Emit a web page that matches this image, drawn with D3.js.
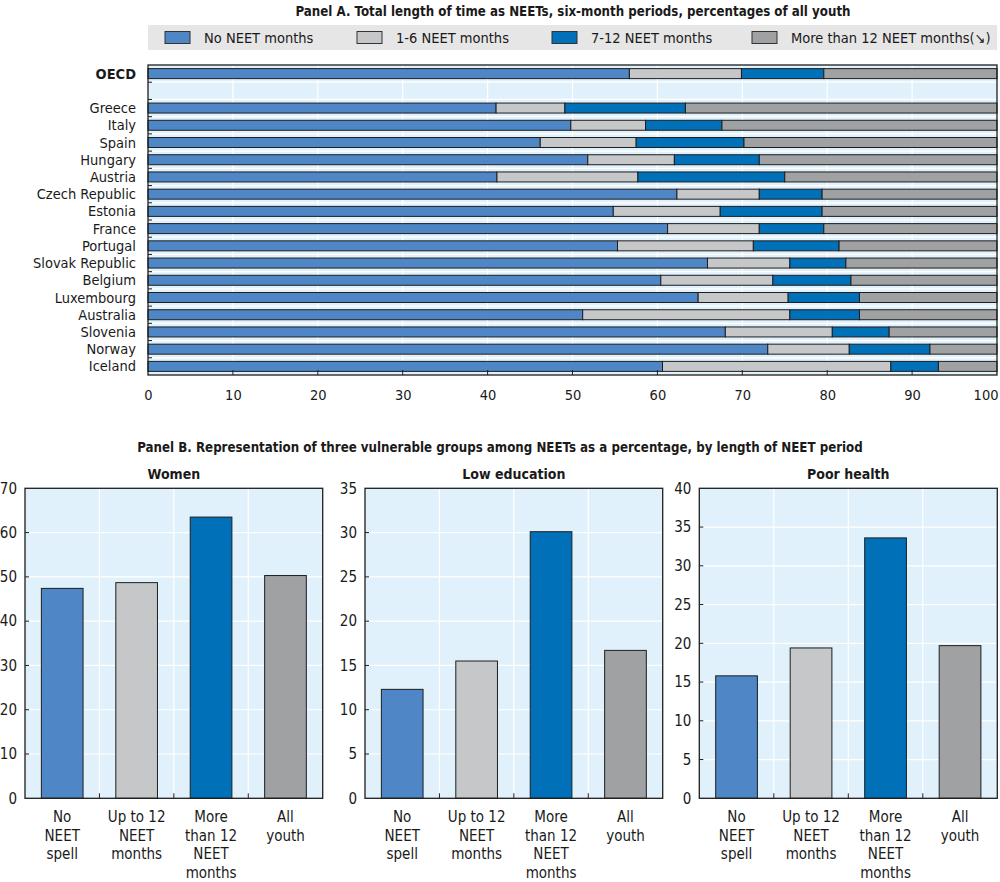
<!DOCTYPE html>
<html><head><meta charset="utf-8">
<script src="https://cdn.jsdelivr.net/npm/d3@7"></script>
<style>
body{margin:0;background:#fff;}
text{font-family:"Liberation Sans Narrow","Arial Narrow","DejaVu Sans Condensed",sans-serif;font-stretch:condensed;fill:#1a1a1a;}
</style></head>
<body><svg id="c" width="1000" height="882"></svg>
<script>
// ---------- Panel A data ----------
const countries = ["OECD","Greece","Italy","Spain","Hungary","Austria","Czech Republic","Estonia","France","Portugal","Slovak Republic","Belgium","Luxembourg","Australia","Slovenia","Norway","Iceland"];
const noNeet   = [56.7,41.0,49.8,46.2,51.8,41.1,62.3,54.8,61.2,55.3,65.9,60.4,64.8,51.2,68.0,73.0,60.6];
const neet1to6 = [13.2, 8.1, 8.8,11.3,10.2,16.6, 9.7,12.6,10.8,16.0, 9.7,13.2,10.6,24.4,12.6, 9.6,26.9];
const neet7to12= [ 9.7,14.2, 9.0,12.7,10.0,17.3, 7.4,12.0, 7.6,10.1, 6.6, 9.2, 8.4, 8.2, 6.7, 9.5, 5.6];
const neet12plus=[20.4,36.7,32.4,29.8,28.0,25.0,20.6,20.6,20.4,18.6,17.8,17.2,16.2,16.2,12.7, 7.9, 6.9];
const seriesA = ["No NEET months","1-6 NEET months","7-12 NEET months","More than 12 NEET months(\u2198)"];
const xTicksA = [0,10,20,30,40,50,60,70,80,90,100];

// ---------- Panel B data ----------
const groupsB = ["Women","Low education","Poor health"];
const categoriesB = ["No NEET spell","Up to 12 NEET months","More than 12 NEET months","All youth"];
const categoryLinesB = [["No","NEET","spell"],["Up to 12","NEET","months"],["More","than 12","NEET","months"],["All","youth"]];
const women = [47.4,48.7,63.5,50.3];
const lowEducation = [12.3,15.5,30.1,16.7];
const poorHealth = [15.8,19.4,33.6,19.7];
const yTicksWomen = [0,10,20,30,40,50,60,70];
const yTicksLowEdu = [0,5,10,15,20,25,30,35];
const yTicksHealth = [0,5,10,15,20,25,30,35,40];

const colors = ["#4f86c6","#c6c7c9","#0070b8","#a0a1a3"];
const bg = "#e0f1fb", stroke = "#1e1e1e";

const svg = d3.select("#c");

// ---------- Panel A ----------
svg.append("text").attr("x",573).attr("y",16).attr("text-anchor","middle")
  .attr("font-weight","bold").attr("font-size",13.2).text("Panel A. Total length of time as NEETs, six-month periods, percentages of all youth");

// legend
svg.append("rect").attr("x",148).attr("y",25).attr("width",849).attr("height",25).attr("fill","#e6e6e6");
const legX = [165,357,552,752];
seriesA.forEach((s,i)=>{
  svg.append("rect").attr("x",legX[i]).attr("y",31.5).attr("width",25).attr("height",12)
    .attr("fill",colors[i]).attr("stroke","#333").attr("stroke-width",1);
  svg.append("text").attr("x",legX[i]+39).attr("y",43).attr("font-size",14.5).text(s);
});

const rowsA = [countries[0],"__gap__",...countries.slice(1)];
const xA = d3.scaleLinear().domain([0,100]).range([148,997]);
const yA = d3.scaleBand().domain(rowsA).range([65,375]).paddingInner(0.42).paddingOuter(0.21);
const stepA = yA.step();
const rowEdge = d => yA(d) - stepA*0.21;

const gA = svg.append("g");
gA.append("rect").attr("x",xA(0)).attr("y",65).attr("width",xA(100)-xA(0)).attr("height",310).attr("fill",bg);
gA.selectAll(".gv").data(xTicksA.slice(1,-1)).join("line")
  .attr("x1",d=>xA(d)).attr("x2",d=>xA(d)).attr("y1",65).attr("y2",375)
  .attr("stroke","#fff").attr("stroke-width",1.2);
gA.selectAll(".gh").data(rowsA.slice(1)).join("line")
  .attr("x1",xA(0)).attr("x2",xA(100)).attr("y1",rowEdge).attr("y2",rowEdge)
  .attr("stroke","#fff").attr("stroke-width",1.2);

const stackData = countries.map((c,i)=>({c, v:[noNeet[i],neet1to6[i],neet7to12[i],neet12plus[i]]}));
stackData.forEach(d=>{
  let acc=0;
  d.v.forEach((v,k)=>{
    gA.append("rect").attr("x",xA(acc)).attr("width",xA(acc+v)-xA(acc))
      .attr("y",yA(d.c)).attr("height",yA.bandwidth())
      .attr("fill",colors[k]).attr("stroke",stroke).attr("stroke-width",1);
    acc+=v;
  });
});

gA.append("rect").attr("x",xA(0)).attr("y",65).attr("width",xA(100)-xA(0)).attr("height",310)
  .attr("fill","none").attr("stroke",stroke).attr("stroke-width",1.3);
gA.selectAll(".lt").data(rowsA.slice(1)).join("line")
  .attr("x1",xA(0)).attr("x2",xA(0)+4).attr("y1",rowEdge).attr("y2",rowEdge)
  .attr("stroke",stroke).attr("stroke-width",1);
const axA = d3.axisBottom(xA).tickValues(xTicksA).tickSize(0).tickPadding(15);
const axAg = gA.append("g").attr("transform","translate(0,375)").call(axA);
axAg.select(".domain").remove();
axAg.selectAll("text").attr("font-size",14.5).attr("font-family",null)
  .attr("text-anchor",d=>d===100?"end":"middle").attr("dx",d=>d===100?1:0);
gA.selectAll(".bt").data(xTicksA.slice(1,-1)).join("line")
  .attr("x1",d=>xA(d)).attr("x2",d=>xA(d)).attr("y1",375).attr("y2",370)
  .attr("stroke",stroke).attr("stroke-width",1);
gA.selectAll(".rl").data(countries).join("text")
  .attr("x",136).attr("y",d=>yA(d)+yA.bandwidth()/2+5).attr("text-anchor","end")
  .attr("font-size",14.5).attr("font-weight",d=>d==="OECD"?"bold":null).text(d=>d);

// ---------- Panel B ----------
svg.append("text").attr("x",500).attr("y",452).attr("text-anchor","middle")
  .attr("font-weight","bold").attr("font-size",13.2).text("Panel B. Representation of three vulnerable groups among NEETs as a percentage, by length of NEET period");

const panelsB = [
  {title:groupsB[0], vals:women, ticks:yTicksWomen, x0:25, x1:322.7},
  {title:groupsB[1], vals:lowEducation, ticks:yTicksLowEdu, x0:365, x1:662.7},
  {title:groupsB[2], vals:poorHealth, ticks:yTicksHealth, x0:699.3, x1:997.3}
];
const topB=488.3, botB=798.3;
panelsB.forEach(p=>{
  const g = svg.append("g");
  const x = d3.scaleBand().domain(categoriesB).range([p.x0,p.x1]).paddingInner(0.44).paddingOuter(0.22);
  const y = d3.scaleLinear().domain([0,d3.max(p.ticks)]).range([botB,topB]);
  g.append("rect").attr("x",p.x0).attr("y",topB).attr("width",p.x1-p.x0).attr("height",botB-topB).attr("fill",bg);
  g.selectAll(".hg").data(p.ticks.slice(1,-1)).join("line")
    .attr("x1",p.x0).attr("x2",p.x1).attr("y1",d=>y(d)).attr("y2",d=>y(d))
    .attr("stroke","#fff").attr("stroke-width",1.2);
  const bounds = categoriesB.slice(1).map(c=>x(c)-x.step()*x.paddingInner()/2);
  g.selectAll(".vg").data(bounds).join("line")
    .attr("x1",d=>d).attr("x2",d=>d).attr("y1",topB).attr("y2",botB)
    .attr("stroke","#fff").attr("stroke-width",1.2);
  g.selectAll(".bar").data(categoriesB).join("rect")
    .attr("x",d=>x(d)).attr("width",x.bandwidth())
    .attr("y",(d,i)=>y(p.vals[i])).attr("height",(d,i)=>botB-y(p.vals[i]))
    .attr("fill",(d,i)=>colors[i]).attr("stroke",stroke).attr("stroke-width",1);
  g.append("rect").attr("x",p.x0).attr("y",topB).attr("width",p.x1-p.x0).attr("height",botB-topB)
    .attr("fill","none").attr("stroke",stroke).attr("stroke-width",1.3);
  g.selectAll(".ct").data(bounds).join("line")
    .attr("x1",d=>d).attr("x2",d=>d).attr("y1",botB).attr("y2",botB-5)
    .attr("stroke",stroke).attr("stroke-width",1);
  const ay = d3.axisLeft(y).tickValues(p.ticks).tickSize(0).tickPadding(8);
  const ayg = g.append("g").attr("transform",`translate(${p.x0},0)`).call(ay);
  ayg.select(".domain").remove();
  ayg.selectAll("text").attr("font-size",15).attr("font-family",null);
  g.selectAll(".yt").data(p.ticks.slice(1,-1)).join("line")
    .attr("x1",p.x0).attr("x2",p.x0+4).attr("y1",d=>y(d)).attr("y2",d=>y(d))
    .attr("stroke",stroke).attr("stroke-width",1);
  g.append("text").attr("x",(p.x0+p.x1)/2).attr("y",479).attr("text-anchor","middle")
    .attr("font-weight","bold").attr("font-size",14).text(p.title);
  categoriesB.forEach((c,i)=>{
    const t = g.append("text").attr("text-anchor","middle").attr("font-size",15)
      .attr("x",x(c)+x.bandwidth()/2).attr("y",822);
    categoryLinesB[i].forEach((ln,j)=>{
      t.append("tspan").attr("x",x(c)+x.bandwidth()/2).attr("dy",j===0?0:18.6).text(ln);
    });
  });
});
</script></body></html>
